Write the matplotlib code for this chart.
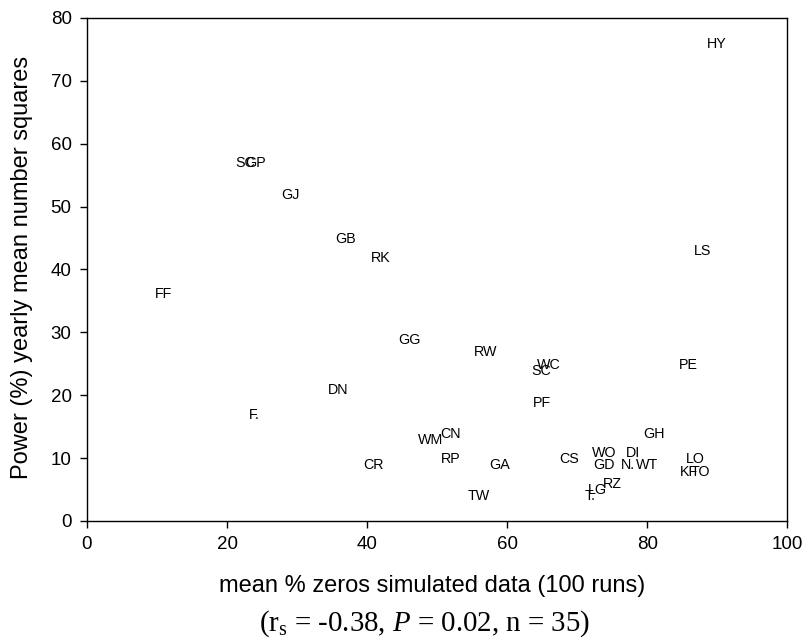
import matplotlib
matplotlib.use("Agg")
import matplotlib.pyplot as plt

# etiquetas y valores
etiquetas = ["HY", "SC", "GP", "GJ", "GB", "RK", "FF", "LS", "GG", "RW",
             "WC", "SC", "PE", "DN", "PF", "F.", "GH", "CN", "WM", "WO",
             "DI", "LO", "CS", "RP", "GD", "N.", "WT", "CR", "GA", "KF",
             "TO", "RZ", "LG", "T.", "TW"]
ceros = [89.9, 22.6, 24.1, 29.0, 36.9, 41.9, 11.0, 87.9, 46.0, 56.9,
         66.0, 64.9, 85.9, 35.9, 64.9, 23.9, 80.9, 51.9, 49.0, 73.9,
         77.9, 86.9, 68.9, 51.9, 73.9, 77.3, 80.0, 40.9, 58.9, 86.0,
         87.6, 75.0, 72.9, 71.9, 55.9]
potencia = [76.0, 57.1, 57.1, 52.0, 45.0, 42.0, 36.3, 43.1, 28.9, 27.0,
            25.0, 24.0, 25.0, 21.0, 18.9, 17.0, 14.0, 14.0, 13.0, 11.0,
            11.0, 10.0, 10.0, 10.0, 9.1, 9.1, 9.1, 9.1, 9.1, 8.0,
            8.0, 6.0, 5.1, 4.1, 4.1]

plt.rcParams["font.family"] = ["Liberation Sans", "DejaVu Sans"]
plt.rcParams["mathtext.fontset"] = "custom"
plt.rcParams["mathtext.rm"] = "Liberation Serif"
plt.rcParams["mathtext.it"] = "Liberation Serif:italic"

fig = plt.figure(figsize=(8.05, 6.4), dpi=100)
ax = fig.add_axes([0.108, 0.186, 0.870, 0.786])

for et, x, y in zip(etiquetas, ceros, potencia):
    ax.text(x, y - 0.15, et, ha="center", va="center", fontsize=10.3)

ax.set_xlim(0, 100)
ax.set_ylim(0, 80)
ax.set_xticks(range(0, 101, 20))
ax.set_yticks(range(0, 81, 10))
ax.tick_params(direction="out", length=5, width=1, labelsize=13.5, pad=6)
for s in ax.spines.values():
    s.set_linewidth(1)

fig.text(0.027, 0.582, "Power (%) yearly mean number squares",
         rotation=90, ha="center", va="center", fontsize=17)
fig.text(0.537, 0.075, "mean % zeros simulated data (100 runs)",
         ha="center", va="baseline", fontsize=17)
fig.text(0.528, 0.014, r"(r$_\mathregular{s}$ = -0.38, $\mathit{P}$ = 0.02, n = 35)",
         ha="center", va="baseline", fontsize=20.8, family="Liberation Serif")

fig.savefig("out.png", dpi=100)
